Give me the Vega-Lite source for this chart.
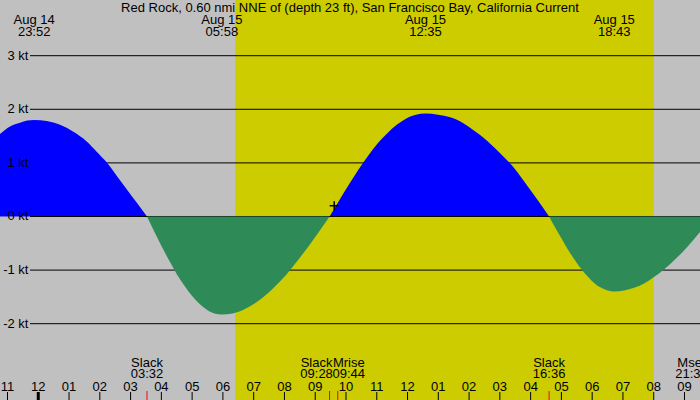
{
  "$schema": "https://vega.github.io/schema/vega-lite/v6.json",
  "width": 700,
  "height": 400,
  "padding": 0,
  "autosize": {"type": "none"},
  "background": "#c0c0c0",
  "config": {"view": {"stroke": null}, "font": "Liberation Sans"},
  "title": {
    "text": "Red Rock, 0.60 nmi NNE of (depth 23 ft), San Francisco Bay, California Current",
    "font": "Liberation Sans", "fontSize": 13, "fontWeight": "normal", "color": "black",
    "anchor": "middle", "baseline": "alphabetic", "offset": -25
  },
  "datasets": {
    "current": [
      {"t": "2024-08-14T22:45:23", "v": 1.54, "seg": 1, "dir": "Flood"},
      {"t": "2024-08-14T23:04:53", "v": 1.68, "seg": 1, "dir": "Flood"},
      {"t": "2024-08-14T23:24:23", "v": 1.75, "seg": 1, "dir": "Flood"},
      {"t": "2024-08-14T23:38:24", "v": 1.79, "seg": 1, "dir": "Flood"},
      {"t": "2024-08-14T23:52:00", "v": 1.80, "seg": 1, "dir": "Flood"},
      {"t": "2024-08-15T00:16:22", "v": 1.78, "seg": 1, "dir": "Flood"},
      {"t": "2024-08-15T00:42:22", "v": 1.71, "seg": 1, "dir": "Flood"},
      {"t": "2024-08-15T01:08:22", "v": 1.58, "seg": 1, "dir": "Flood"},
      {"t": "2024-08-15T01:34:22", "v": 1.40, "seg": 1, "dir": "Flood"},
      {"t": "2024-08-15T01:53:52", "v": 1.21, "seg": 1, "dir": "Flood"},
      {"t": "2024-08-15T02:13:22", "v": 1.01, "seg": 1, "dir": "Flood"},
      {"t": "2024-08-15T02:32:52", "v": 0.76, "seg": 1, "dir": "Flood"},
      {"t": "2024-08-15T02:52:22", "v": 0.51, "seg": 1, "dir": "Flood"},
      {"t": "2024-08-15T03:11:52", "v": 0.26, "seg": 1, "dir": "Flood"},
      {"t": "2024-08-15T03:32:00", "v": 0.00, "seg": 1, "dir": "Flood"},
      {"t": "2024-08-15T03:32:00", "v": 0.00, "seg": 2, "dir": "Ebb"},
      {"t": "2024-08-15T03:46:35", "v": -0.29, "seg": 2, "dir": "Ebb"},
      {"t": "2024-08-15T04:01:12", "v": -0.57, "seg": 2, "dir": "Ebb"},
      {"t": "2024-08-15T04:15:47", "v": -0.83, "seg": 2, "dir": "Ebb"},
      {"t": "2024-08-15T04:30:24", "v": -1.08, "seg": 2, "dir": "Ebb"},
      {"t": "2024-08-15T04:45:00", "v": -1.29, "seg": 2, "dir": "Ebb"},
      {"t": "2024-08-15T04:59:36", "v": -1.48, "seg": 2, "dir": "Ebb"},
      {"t": "2024-08-15T05:14:10", "v": -1.63, "seg": 2, "dir": "Ebb"},
      {"t": "2024-08-15T05:28:48", "v": -1.74, "seg": 2, "dir": "Ebb"},
      {"t": "2024-08-15T05:43:22", "v": -1.81, "seg": 2, "dir": "Ebb"},
      {"t": "2024-08-15T05:58:00", "v": -1.83, "seg": 2, "dir": "Ebb"},
      {"t": "2024-08-15T06:19:00", "v": -1.81, "seg": 2, "dir": "Ebb"},
      {"t": "2024-08-15T06:40:00", "v": -1.74, "seg": 2, "dir": "Ebb"},
      {"t": "2024-08-15T07:01:00", "v": -1.63, "seg": 2, "dir": "Ebb"},
      {"t": "2024-08-15T07:22:00", "v": -1.48, "seg": 2, "dir": "Ebb"},
      {"t": "2024-08-15T07:43:00", "v": -1.29, "seg": 2, "dir": "Ebb"},
      {"t": "2024-08-15T08:04:00", "v": -1.08, "seg": 2, "dir": "Ebb"},
      {"t": "2024-08-15T08:25:00", "v": -0.83, "seg": 2, "dir": "Ebb"},
      {"t": "2024-08-15T08:46:00", "v": -0.57, "seg": 2, "dir": "Ebb"},
      {"t": "2024-08-15T09:07:00", "v": -0.29, "seg": 2, "dir": "Ebb"},
      {"t": "2024-08-15T09:28:00", "v": 0.00, "seg": 2, "dir": "Ebb"},
      {"t": "2024-08-15T09:28:00", "v": 0.00, "seg": 3, "dir": "Flood"},
      {"t": "2024-08-15T09:46:43", "v": 0.30, "seg": 3, "dir": "Flood"},
      {"t": "2024-08-15T10:05:26", "v": 0.59, "seg": 3, "dir": "Flood"},
      {"t": "2024-08-15T10:24:07", "v": 0.87, "seg": 3, "dir": "Flood"},
      {"t": "2024-08-15T10:42:50", "v": 1.13, "seg": 3, "dir": "Flood"},
      {"t": "2024-08-15T11:01:32", "v": 1.36, "seg": 3, "dir": "Flood"},
      {"t": "2024-08-15T11:20:13", "v": 1.55, "seg": 3, "dir": "Flood"},
      {"t": "2024-08-15T11:38:56", "v": 1.71, "seg": 3, "dir": "Flood"},
      {"t": "2024-08-15T11:57:38", "v": 1.83, "seg": 3, "dir": "Flood"},
      {"t": "2024-08-15T12:16:19", "v": 1.90, "seg": 3, "dir": "Flood"},
      {"t": "2024-08-15T12:35:00", "v": 1.92, "seg": 3, "dir": "Flood"},
      {"t": "2024-08-15T12:59:06", "v": 1.90, "seg": 3, "dir": "Flood"},
      {"t": "2024-08-15T13:23:10", "v": 1.85, "seg": 3, "dir": "Flood"},
      {"t": "2024-08-15T13:47:17", "v": 1.75, "seg": 3, "dir": "Flood"},
      {"t": "2024-08-15T14:11:24", "v": 1.59, "seg": 3, "dir": "Flood"},
      {"t": "2024-08-15T14:35:31", "v": 1.41, "seg": 3, "dir": "Flood"},
      {"t": "2024-08-15T14:59:35", "v": 1.19, "seg": 3, "dir": "Flood"},
      {"t": "2024-08-15T15:23:42", "v": 0.95, "seg": 3, "dir": "Flood"},
      {"t": "2024-08-15T15:47:49", "v": 0.65, "seg": 3, "dir": "Flood"},
      {"t": "2024-08-15T16:11:53", "v": 0.33, "seg": 3, "dir": "Flood"},
      {"t": "2024-08-15T16:36:00", "v": 0.00, "seg": 3, "dir": "Flood"},
      {"t": "2024-08-15T16:36:00", "v": 0.00, "seg": 4, "dir": "Ebb"},
      {"t": "2024-08-15T16:48:42", "v": -0.22, "seg": 4, "dir": "Ebb"},
      {"t": "2024-08-15T17:01:24", "v": -0.43, "seg": 4, "dir": "Ebb"},
      {"t": "2024-08-15T17:14:06", "v": -0.64, "seg": 4, "dir": "Ebb"},
      {"t": "2024-08-15T17:26:48", "v": -0.82, "seg": 4, "dir": "Ebb"},
      {"t": "2024-08-15T17:39:30", "v": -0.99, "seg": 4, "dir": "Ebb"},
      {"t": "2024-08-15T17:52:12", "v": -1.13, "seg": 4, "dir": "Ebb"},
      {"t": "2024-08-15T18:04:54", "v": -1.25, "seg": 4, "dir": "Ebb"},
      {"t": "2024-08-15T18:17:36", "v": -1.33, "seg": 4, "dir": "Ebb"},
      {"t": "2024-08-15T18:30:18", "v": -1.38, "seg": 4, "dir": "Ebb"},
      {"t": "2024-08-15T18:43:00", "v": -1.40, "seg": 4, "dir": "Ebb"},
      {"t": "2024-08-15T19:02:24", "v": -1.38, "seg": 4, "dir": "Ebb"},
      {"t": "2024-08-15T19:21:47", "v": -1.33, "seg": 4, "dir": "Ebb"},
      {"t": "2024-08-15T19:41:10", "v": -1.25, "seg": 4, "dir": "Ebb"},
      {"t": "2024-08-15T20:00:32", "v": -1.13, "seg": 4, "dir": "Ebb"},
      {"t": "2024-08-15T20:19:55", "v": -0.99, "seg": 4, "dir": "Ebb"},
      {"t": "2024-08-15T20:39:18", "v": -0.82, "seg": 4, "dir": "Ebb"},
      {"t": "2024-08-15T20:58:41", "v": -0.64, "seg": 4, "dir": "Ebb"},
      {"t": "2024-08-15T21:18:04", "v": -0.43, "seg": 4, "dir": "Ebb"},
      {"t": "2024-08-15T21:30:14", "v": -0.29, "seg": 4, "dir": "Ebb"}
    ],
    "extrema": [
      {"t": "2024-08-14T23:52:00", "v": 1.80},
      {"t": "2024-08-15T05:58:00", "v": -1.83},
      {"t": "2024-08-15T12:35:00", "v": 1.92},
      {"t": "2024-08-15T18:43:00", "v": -1.40}
    ],
    "events": [
      {"t": "2024-08-15T03:32:00", "event": "Slack"},
      {"t": "2024-08-15T09:28:00", "event": "Slack"},
      {"t": "2024-08-15T09:44:00", "event": "Mrise"},
      {"t": "2024-08-15T16:36:00", "event": "Slack"},
      {"t": "2024-08-15T21:35:00", "event": "Mset"}
    ],
    "sun": [{"t": "2024-08-15T06:24:00", "t2": "2024-08-15T20:00:00"}],
    "grid": [
      {"v": 3, "label": "3 kt"}, {"v": 2, "label": "2 kt"}, {"v": 1, "label": "1 kt"},
      {"v": 0, "label": "0 kt"}, {"v": -1, "label": "-1 kt"}, {"v": -2, "label": "-2 kt"}
    ],
    "hours": [
      {"t": "2024-08-14T23:00:00"}, {"t": "2024-08-15T00:00:00"}, {"t": "2024-08-15T01:00:00"},
      {"t": "2024-08-15T02:00:00"}, {"t": "2024-08-15T03:00:00"}, {"t": "2024-08-15T04:00:00"},
      {"t": "2024-08-15T05:00:00"}, {"t": "2024-08-15T06:00:00"}, {"t": "2024-08-15T07:00:00"},
      {"t": "2024-08-15T08:00:00"}, {"t": "2024-08-15T09:00:00"}, {"t": "2024-08-15T10:00:00"},
      {"t": "2024-08-15T11:00:00"}, {"t": "2024-08-15T12:00:00"}, {"t": "2024-08-15T13:00:00"},
      {"t": "2024-08-15T14:00:00"}, {"t": "2024-08-15T15:00:00"}, {"t": "2024-08-15T16:00:00"},
      {"t": "2024-08-15T17:00:00"}, {"t": "2024-08-15T18:00:00"}, {"t": "2024-08-15T19:00:00"},
      {"t": "2024-08-15T20:00:00"}, {"t": "2024-08-15T21:00:00"}
    ],
    "marker": [{"t": "2024-08-15T09:37:00", "v": 0.2}]
  },
  "layer": [
    {
      "data": {"name": "sun"},
      "mark": {"type": "rect", "color": "#cccc00"},
      "encoding": {
        "x": {
          "field": "t", "type": "temporal",
          "scale": {"domain": [
            {"year": 2024, "month": 8, "date": 14, "hours": 22, "minutes": 45, "seconds": 23},
            {"year": 2024, "month": 8, "date": 15, "hours": 21, "minutes": 30, "seconds": 14}
          ], "nice": false},
          "axis": null
        },
        "x2": {"field": "t2"}
      }
    },
    {
      "data": {"name": "grid"},
      "transform": [{"filter": "datum.v !== 0"}],
      "mark": {"type": "rule", "color": "black", "strokeWidth": 1},
      "encoding": {
        "y": {
          "field": "v", "type": "quantitative",
          "scale": {"domain": [-3.4235, 4.039], "nice": false, "zero": false},
          "axis": null
        },
        "x": {"datum": {"year": 2024, "month": 8, "date": 14, "hours": 23, "minutes": 43, "seconds": 52}, "type": "temporal", "axis": null},
        "x2": {"datum": {"year": 2024, "month": 8, "date": 15, "hours": 21, "minutes": 30, "seconds": 14}}
      }
    },
    {
      "data": {"name": "current"},
      "transform": [{"filter": {"field": "dir", "equal": "Flood"}}],
      "mark": {"type": "area", "color": "#0000ff", "interpolate": "monotone"},
      "encoding": {
        "x": {"field": "t", "type": "temporal", "axis": null},
        "y": {"field": "v", "type": "quantitative", "axis": null},
        "y2": {"datum": 0},
        "detail": {"field": "seg"}
      }
    },
    {
      "data": {"name": "grid"},
      "transform": [{"filter": "datum.v === 0"}],
      "mark": {"type": "rule", "color": "black", "strokeWidth": 1},
      "encoding": {
        "y": {"field": "v", "type": "quantitative", "axis": null},
        "x": {"datum": {"year": 2024, "month": 8, "date": 14, "hours": 23, "minutes": 43, "seconds": 52}, "type": "temporal", "axis": null},
        "x2": {"datum": {"year": 2024, "month": 8, "date": 15, "hours": 21, "minutes": 30, "seconds": 14}}
      }
    },
    {
      "data": {"name": "current"},
      "transform": [{"filter": {"field": "dir", "equal": "Ebb"}}],
      "mark": {"type": "area", "color": "#2e8b57", "interpolate": "monotone"},
      "encoding": {
        "x": {"field": "t", "type": "temporal", "axis": null},
        "y": {"field": "v", "type": "quantitative", "axis": null},
        "y2": {"datum": 0},
        "detail": {"field": "seg"}
      }
    },
    {
      "data": {"name": "grid"},
      "mark": {"type": "text", "font": "Liberation Sans", "fontSize": 13, "color": "black", "align": "right", "baseline": "middle"},
      "encoding": {
        "y": {"field": "v", "type": "quantitative", "axis": null},
        "x": {"datum": {"year": 2024, "month": 8, "date": 14, "hours": 23, "minutes": 40, "seconds": 57}, "type": "temporal", "axis": null},
        "text": {"field": "label"}
      }
    },
    {
      "data": {"name": "hours"},
      "mark": {"type": "rule", "color": "black"},
      "encoding": {
        "x": {"field": "t", "type": "temporal", "axis": null},
        "y": {"datum": -3.274, "axis": null},
        "y2": {"datum": -3.45},
        "strokeWidth": {"condition": {"test": "hours(toDate(datum.t)) === 0", "value": 3}, "value": 1}
      }
    },
    {
      "data": {"name": "hours"},
      "mark": {"type": "text", "font": "Liberation Sans", "fontSize": 13, "color": "black", "align": "center", "baseline": "alphabetic"},
      "encoding": {
        "x": {"field": "t", "type": "temporal", "axis": null},
        "y": {"datum": -3.25, "axis": null},
        "text": {"field": "t", "type": "temporal", "format": "%I"}
      }
    },
    {
      "data": {"name": "events"},
      "mark": {"type": "rule", "color": "#ff0000", "strokeWidth": 1},
      "encoding": {
        "x": {"field": "t", "type": "temporal", "axis": null},
        "y": {"datum": -3.256, "axis": null},
        "y2": {"datum": -3.45}
      }
    },
    {
      "data": {"name": "marker"},
      "mark": {"type": "point", "shape": "M-1,0L1,0M0,-1L0,1", "filled": false, "stroke": "black", "strokeWidth": 1.5, "size": 81, "opacity": 1},
      "encoding": {
        "x": {"field": "t", "type": "temporal", "axis": null},
        "y": {"field": "v", "type": "quantitative", "axis": null}
      }
    },
    {
      "data": {"name": "extrema"},
      "mark": {"type": "text", "font": "Liberation Sans", "fontSize": 13, "color": "black", "align": "center", "baseline": "alphabetic"},
      "encoding": {
        "x": {"field": "t", "type": "temporal", "axis": null},
        "y": {"datum": 3.59, "axis": null},
        "text": {"field": "t", "type": "temporal", "format": "%b %d"}
      }
    },
    {
      "data": {"name": "extrema"},
      "mark": {"type": "text", "font": "Liberation Sans", "fontSize": 13, "color": "black", "align": "center", "baseline": "alphabetic"},
      "encoding": {
        "x": {"field": "t", "type": "temporal", "axis": null},
        "y": {"datum": 3.37, "axis": null},
        "text": {"field": "t", "type": "temporal", "format": "%H:%M"}
      }
    },
    {
      "data": {"name": "events"},
      "transform": [{"filter": "datum.event === 'Slack' && hours(toDate(datum.t)) !== 9"}],
      "layer": [
        {
          "mark": {"type": "text", "font": "Liberation Sans", "fontSize": 13, "color": "black", "align": "center", "baseline": "alphabetic"},
          "encoding": {
            "x": {"field": "t", "type": "temporal", "axis": null},
            "y": {"datum": -2.80, "axis": null},
            "text": {"field": "event"}
          }
        },
        {
          "mark": {"type": "text", "font": "Liberation Sans", "fontSize": 13, "color": "black", "align": "center", "baseline": "alphabetic"},
          "encoding": {
            "x": {"field": "t", "type": "temporal", "axis": null},
            "y": {"datum": -3.02, "axis": null},
            "text": {"field": "t", "type": "temporal", "format": "%H:%M"}
          }
        }
      ]
    },
    {
      "data": {"name": "events"},
      "transform": [{"filter": "datum.event === 'Slack' && hours(toDate(datum.t)) === 9"}],
      "layer": [
        {
          "mark": {"type": "text", "font": "Liberation Sans", "fontSize": 13, "color": "black", "align": "center", "baseline": "alphabetic", "dx": -13},
          "encoding": {
            "x": {"field": "t", "type": "temporal", "axis": null},
            "y": {"datum": -2.80, "axis": null},
            "text": {"field": "event"}
          }
        },
        {
          "mark": {"type": "text", "font": "Liberation Sans", "fontSize": 13, "color": "black", "align": "center", "baseline": "alphabetic", "dx": -13},
          "encoding": {
            "x": {"field": "t", "type": "temporal", "axis": null},
            "y": {"datum": -3.02, "axis": null},
            "text": {"field": "t", "type": "temporal", "format": "%H:%M"}
          }
        }
      ]
    },
    {
      "data": {"name": "events"},
      "transform": [{"filter": {"field": "event", "equal": "Mrise"}}],
      "layer": [
        {
          "mark": {"type": "text", "font": "Liberation Sans", "fontSize": 13, "color": "black", "align": "center", "baseline": "alphabetic", "dx": 11},
          "encoding": {
            "x": {"field": "t", "type": "temporal", "axis": null},
            "y": {"datum": -2.80, "axis": null},
            "text": {"field": "event"}
          }
        },
        {
          "mark": {"type": "text", "font": "Liberation Sans", "fontSize": 13, "color": "black", "align": "center", "baseline": "alphabetic", "dx": 11},
          "encoding": {
            "x": {"field": "t", "type": "temporal", "axis": null},
            "y": {"datum": -3.02, "axis": null},
            "text": {"field": "t", "type": "temporal", "format": "%H:%M"}
          }
        }
      ]
    },
    {
      "data": {"name": "events"},
      "transform": [{"filter": {"field": "event", "equal": "Mset"}}],
      "layer": [
        {
          "mark": {"type": "text", "font": "Liberation Sans", "fontSize": 13, "color": "black", "align": "center", "baseline": "alphabetic", "dx": -11},
          "encoding": {
            "x": {"field": "t", "type": "temporal", "axis": null},
            "y": {"datum": -2.80, "axis": null},
            "text": {"field": "event"}
          }
        },
        {
          "mark": {"type": "text", "font": "Liberation Sans", "fontSize": 13, "color": "black", "align": "center", "baseline": "alphabetic", "dx": -11},
          "encoding": {
            "x": {"field": "t", "type": "temporal", "axis": null},
            "y": {"datum": -3.02, "axis": null},
            "text": {"field": "t", "type": "temporal", "format": "%H:%M"}
          }
        }
      ]
    }
  ]
}
